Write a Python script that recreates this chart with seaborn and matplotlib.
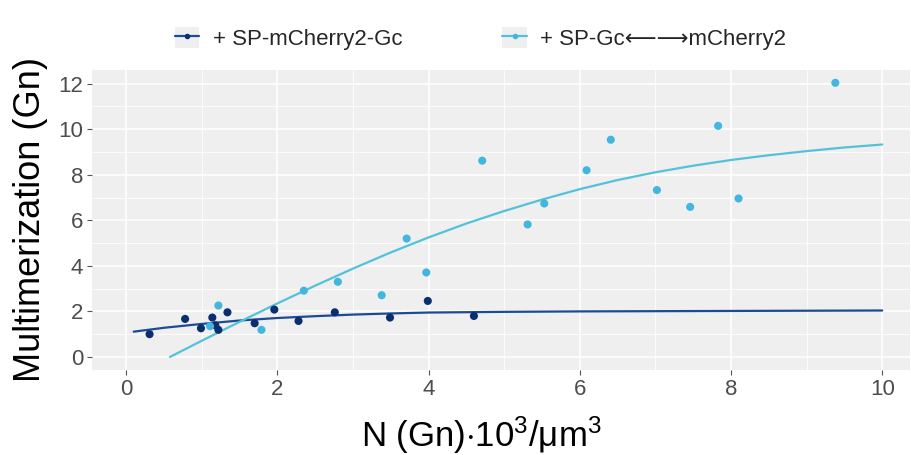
import matplotlib
matplotlib.use("Agg")
import matplotlib.pyplot as plt
from matplotlib.lines import Line2D
from matplotlib.patches import Patch
from matplotlib.ticker import MultipleLocator
import pandas as pd
import seaborn as sns

# ---------------------------------------------------------------------------
# data
# ---------------------------------------------------------------------------
LABEL_A = "+ SP-mCherry2-Gc"
LABEL_B = "+ SP-Gc\u27f5\u27f6mCherry2"

a_x = [0.31, 0.78, 0.99, 1.14, 1.18, 1.22, 1.34, 1.70, 1.96, 2.28, 2.76, 3.49, 3.99, 4.60]
a_y = [1.00, 1.67, 1.26, 1.73, 1.39, 1.19, 1.96, 1.48, 2.08, 1.58, 1.96, 1.73, 2.46, 1.80]

b_x = [1.11, 1.22, 1.79, 2.35, 2.80, 3.38, 3.71, 3.97, 4.71, 5.31, 5.53, 6.09,
       6.41, 7.02, 7.46, 7.83, 8.10, 9.38]
b_y = [1.35, 2.26, 1.19, 2.91, 3.30, 2.71, 5.20, 3.71, 8.62, 5.82, 6.74, 8.20,
       9.54, 7.33, 6.59, 10.15, 6.96, 12.04]

# fitted curves as drawn in the picture
fit_a_x = [0.10, 0.50, 1.00, 1.50, 2.00, 2.50, 3.00, 3.50, 4.00, 5.00, 6.00, 8.00, 10.00]
fit_a_y = [1.11, 1.28, 1.45, 1.60, 1.71, 1.79, 1.86, 1.91, 1.95, 1.98, 2.00, 2.02, 2.04]

fit_b_x = [0.58, 1.0, 1.5, 2.0, 2.5, 3.0, 3.5, 4.0, 4.5, 5.0,
           5.5, 6.0, 6.5, 7.0, 7.5, 8.0, 8.5, 9.0, 9.5, 10.0]
fit_b_y = [0.00, 0.71, 1.54, 2.35, 3.13, 3.88, 4.59, 5.25, 5.86, 6.41,
           6.91, 7.37, 7.77, 8.11, 8.40, 8.65, 8.86, 9.04, 9.20, 9.33]

COL_A_PT, COL_A_LN = "#0B2E6F", "#1D4A97"
COL_B_PT, COL_B_LN = "#43B6DD", "#52C2DA"

pts = pd.concat([
    pd.DataFrame({"x": a_x, "y": a_y, "grp": LABEL_A}),
    pd.DataFrame({"x": b_x, "y": b_y, "grp": LABEL_B}),
])
fits = pd.concat([
    pd.DataFrame({"x": fit_a_x, "y": fit_a_y, "grp": LABEL_A}),
    pd.DataFrame({"x": fit_b_x, "y": fit_b_y, "grp": LABEL_B}),
])

# ---------------------------------------------------------------------------
# plot
# ---------------------------------------------------------------------------
sns.set_theme(style="darkgrid", rc={"axes.facecolor": "#EFEFEF",
                                    "grid.color": "white"})
plt.rcParams["font.family"] = ["Liberation Sans", "DejaVu Sans"]
plt.rcParams["mathtext.fontset"] = "custom"
plt.rcParams["mathtext.rm"] = "Liberation Sans"
plt.rcParams["mathtext.it"] = "Liberation Sans"

fig = plt.figure(figsize=(9.12, 4.55), dpi=100)
ax = fig.add_axes([0.101, 0.187, 0.897, 0.659])

sns.lineplot(data=fits, x="x", y="y", hue="grp", estimator=None, sort=True,
             palette={LABEL_A: COL_A_LN, LABEL_B: COL_B_LN}, linewidth=1.6,
             legend=False, ax=ax, zorder=2)
sns.scatterplot(data=pts, x="x", y="y", hue="grp", s=34, linewidth=0,
                palette={LABEL_A: COL_A_PT, LABEL_B: COL_B_PT},
                legend=False, ax=ax, zorder=3)

ax.set_xlim(-0.45, 10.37)
ax.set_ylim(-0.57, 12.6)
ax.xaxis.set_major_locator(MultipleLocator(2))
ax.xaxis.set_minor_locator(MultipleLocator(1))
ax.yaxis.set_major_locator(MultipleLocator(2))
ax.yaxis.set_minor_locator(MultipleLocator(1))
ax.grid(which="major", color="white", linewidth=1.1)
ax.grid(which="minor", color="white", linewidth=0.55)
ax.tick_params(which="major", length=3.5, width=0.8, color="#555555",
               labelsize=16, labelcolor="#4D4D4D", pad=3, bottom=True, left=True)
ax.tick_params(which="minor", length=0)
for s in ax.spines.values():
    s.set_visible(False)

ax.set_xlabel(r"N (Gn)$\cdot$10$^{3}$/$\mu$m$^{3}$", fontsize=25, color="black")
ax.xaxis.set_label_coords(0.476, -0.15)
ax.set_ylabel("Multimerization (Gn)", fontsize=26, color="black", labelpad=7)

handles = [
    (Patch(facecolor="#EFEFEF", edgecolor="none"),
     Line2D([], [], color=COL_A_LN, linewidth=1.6, marker="o", markersize=4,
            markerfacecolor=COL_A_PT, markeredgewidth=0)),
    (Patch(facecolor="#EFEFEF", edgecolor="none"),
     Line2D([], [], color=COL_B_LN, linewidth=1.6, marker="o", markersize=4,
            markerfacecolor=COL_B_PT, markeredgewidth=0)),
]
fig.legend(handles, [LABEL_A, LABEL_B], loc="center", bbox_to_anchor=(0.527, 0.915),
           ncol=2, frameon=False, fontsize=16, handlelength=1.1, handleheight=1.1,
           handletextpad=0.6, columnspacing=4.5)

fig.savefig("out.png", dpi=100)
